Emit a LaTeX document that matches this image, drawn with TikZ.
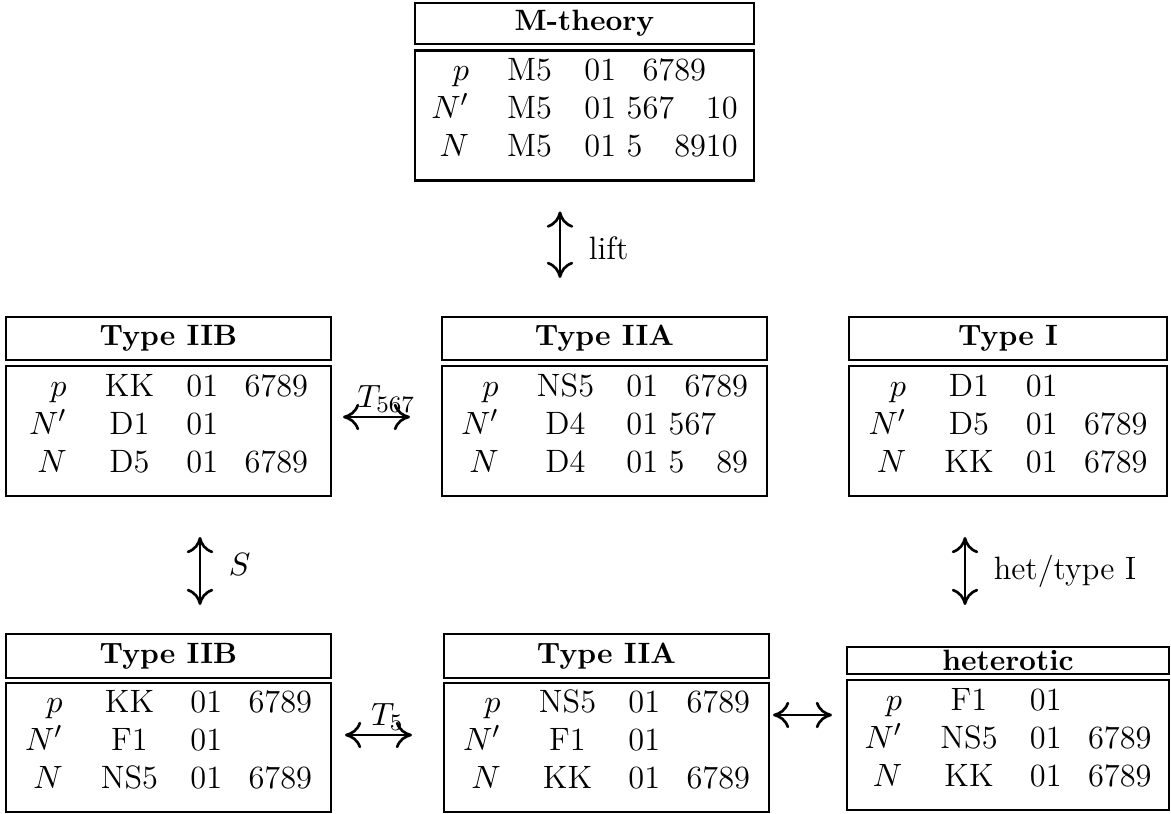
\documentclass[tikz,border=0pt]{standalone}
\usepackage{amsmath}
\usepackage{amssymb}
\usetikzlibrary{arrows.meta,positioning}

\newcommand{\pxu}{0.34pt}
\newcommand{\branes}[1]{\raisebox{1.5pt}[\height][\depth]{\renewcommand{\arraystretch}{0.95}%
    \begin{tabular}{@{}r@{\hspace{13pt}}c@{\hspace{11pt}}l@{}}#1\end{tabular}}}

\begin{document}
\begin{tikzpicture}[x=0.34pt, y=-0.34pt, font=\fontsize{11}{13.6}\selectfont,
    headbox/.style={draw, line width=0.9pt, inner sep=0pt, outer sep=0pt, anchor=north west,
        font=\fontsize{10}{12}\selectfont\bfseries},
    tabbox/.style={draw, line width=0.9pt, inner sep=0pt, outer sep=0pt, anchor=north west},
    dual/.style={line width=0.9pt, {Computer Modern Rightarrow[length=5.5pt,width=9pt]}-{Computer Modern Rightarrow[length=5.5pt,width=9pt]}}]
    \useasboundingbox (0,0) rectangle (1171,814);

    % top row
    \node[headbox, minimum width=339*\pxu, minimum height=41*\pxu] (mth-t) at (415,3) {M-theory};
    \node[tabbox, minimum width=339*\pxu, minimum height=130*\pxu] (mth) at (415,50.5) {\branes{
        $p$ & M5 & 01 \phantom{5}6789\phantom{10}\\
        $N'$ & M5 & 01 567\phantom{89}10\\
        $N$ & M5 & 01 5\phantom{67}8910}};

    % middle row
    \node[headbox, minimum width=325*\pxu, minimum height=43*\pxu] (iib-t) at (6,317) {Type IIB};
    \node[tabbox, minimum width=325*\pxu, minimum height=130*\pxu] (iib) at (6,366) {\branes{
        $p$ & KK & 01 \phantom{5}6789\\
        $N'$ & D1 & 01\\
        $N$ & D5 & 01 \phantom{5}6789}};
    \node[headbox, minimum width=325*\pxu, minimum height=43*\pxu] (iia-t) at (442,317) {Type IIA};
    \node[tabbox, minimum width=325*\pxu, minimum height=130*\pxu] (iia) at (442,366) {\branes{
        $p$ & NS5 & 01 \phantom{5}6789\\
        $N'$ & D4 & 01 567\phantom{89}\\
        $N$ & D4 & 01 5\phantom{67}89}};
    \node[headbox, minimum width=318*\pxu, minimum height=43*\pxu] (ti-t) at (849,317) {Type I};
    \node[tabbox, minimum width=318*\pxu, minimum height=130*\pxu] (ti) at (849,366) {\branes{
        $p$ & D1 & 01\\
        $N'$ & D5 & 01 \phantom{5}6789\\
        $N$ & KK & 01 \phantom{5}6789}};

    % bottom row
    \node[headbox, minimum width=325*\pxu, minimum height=44*\pxu] (iibs-t) at (6,634) {Type IIB};
    \node[tabbox, minimum width=325*\pxu, minimum height=129*\pxu] (iibs) at (6,683) {\branes{
        $p$ & KK & 01 \phantom{5}6789\\
        $N'$ & F1 & 01\\
        $N$ & NS5 & 01 \phantom{5}6789}};
    \node[headbox, minimum width=325*\pxu, minimum height=44*\pxu] (iias-t) at (444,634) {Type IIA};
    \node[tabbox, minimum width=325*\pxu, minimum height=129*\pxu] (iias) at (444,683) {\branes{
        $p$ & NS5 & 01 \phantom{5}6789\\
        $N'$ & F1 & 01\\
        $N$ & KK & 01 \phantom{5}6789}};
    \node[headbox, minimum width=322*\pxu, minimum height=27*\pxu] (het-t) at (847,647) {heterotic};
    \node[tabbox, minimum width=322*\pxu, minimum height=130*\pxu] (het) at (847,680) {\branes{
        $p$ & F1 & 01\\
        $N'$ & NS5 & 01 \phantom{5}6789\\
        $N$ & KK & 01 \phantom{5}6789}};

    % dualities
    \draw[dual, shorten <=31*\pxu, shorten >=39*\pxu] ([xshift=-24.5*\pxu]mth.south) -- ([xshift=-44.5*\pxu]iia-t.north)
        node[midway, right=6pt] {lift};
    \draw[dual, shorten <=12*\pxu, shorten >=32*\pxu] ([yshift=14*\pxu]iib.east) -- ([yshift=14*\pxu]iia.west)
        node[midway, above, inner sep=1pt] {$T_{567}$};
    \draw[dual, shorten <=41*\pxu, shorten >=29*\pxu] ([xshift=31.5*\pxu]iib.south) -- ([xshift=31.5*\pxu]iibs-t.north)
        node[midway, right=6pt] {$S$};
    \draw[dual, shorten <=41*\pxu, shorten >=42*\pxu] ([xshift=-43*\pxu]ti.south) -- ([xshift=-43*\pxu]het-t.north)
        node[midway, right=6pt] {het/type I};
    \draw[dual, shorten <=14*\pxu, shorten >=32*\pxu] ([yshift=12.5*\pxu]iibs.east) -- ([yshift=12.5*\pxu]iias.west)
        node[midway, above, inner sep=1pt] {$T_5$};
    \draw[dual, shorten <=4*\pxu, shorten >=15*\pxu] ([yshift=32.5*\pxu]iias.east) -- ([yshift=30*\pxu]het.west);
\end{tikzpicture}
\end{document}
